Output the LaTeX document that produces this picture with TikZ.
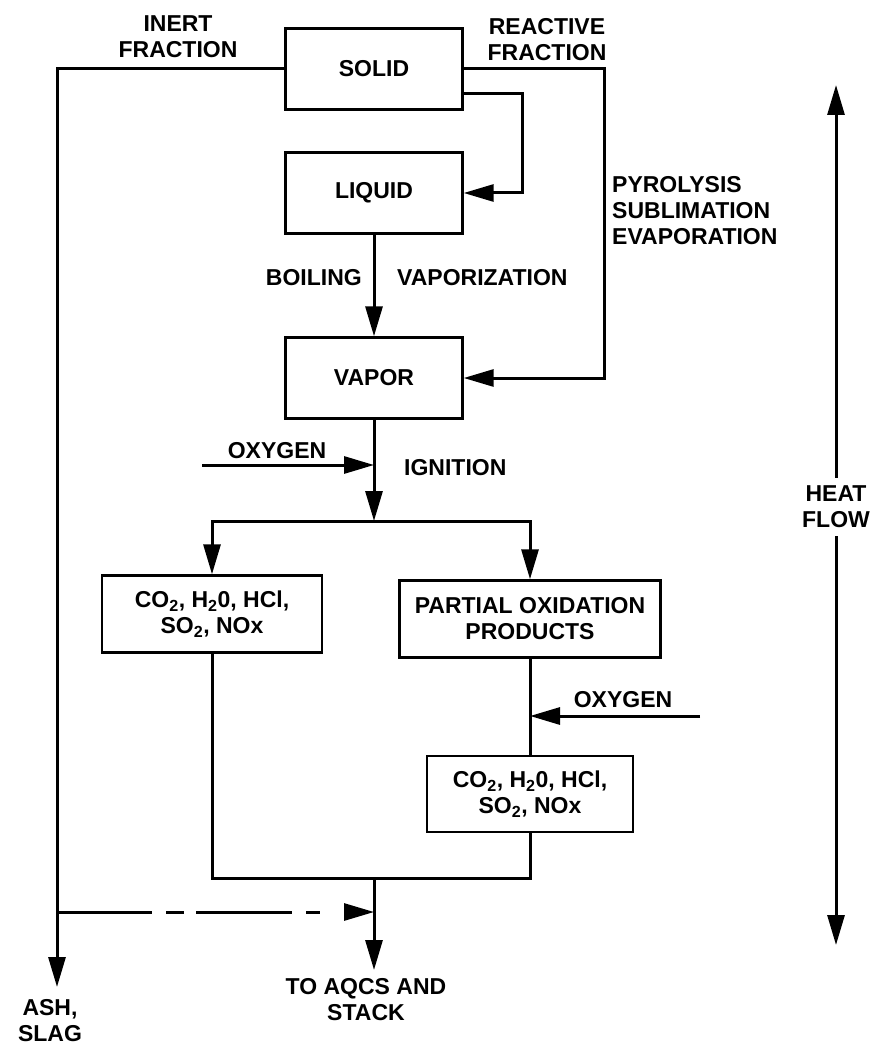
\documentclass[tikz,border=0pt]{standalone}
\usepackage{fontspec}
\setmainfont{Liberation Sans}
\usetikzlibrary{arrows.meta}
\newcommand\dlbl{\fontsize{23}{26}\selectfont\bfseries}
\begin{document}
\begin{tikzpicture}[x=1pt,y=-1pt,
  box/.style={draw, line width=2.4pt, minimum width=#1, minimum height=81pt, inner sep=0pt, align=center, font=\dlbl},
  lab/.style={font=\dlbl, align=center, inner sep=0pt},
  plainline/.style={line width=3pt},
  flow/.style={line width=3pt, -{Triangle[length=30pt,width=17pt]}}]
\useasboundingbox (0,0) rectangle (873,1048);
% boxes
\node[box=177pt] (solid) at (374,69) {SOLID};
\node[box=177pt] (liquid) at (374,193) {LIQUID};
\node[box=177pt] (vapor) at (374,378) {VAPOR};
\node[box=220pt, minimum height=77pt] (left) at (212,614) {CO\textsubscript{2}, H\textsubscript{2}0, HCl,\\SO\textsubscript{2}, NOx};
\node[box=261pt, minimum height=77pt] (partial) at (530,619) {PARTIAL OXIDATION\\PRODUCTS};
\node[box=206pt, minimum height=76pt] (low) at (530,794) {CO\textsubscript{2}, H\textsubscript{2}0, HCl,\\SO\textsubscript{2}, NOx};
% labels
\node[lab] (inert) at (178,37) {INERT\\FRACTION};
\node[lab] (reactive) at (547,40) {REACTIVE\\FRACTION};
\node[lab, align=left, anchor=west] (pyro) at (612,211) {PYROLYSIS\\SUBLIMATION\\EVAPORATION};
\node[lab, anchor=east] (boil) at (362,278) {BOILING};
\node[lab, anchor=west] (vapz) at (397,278) {VAPORIZATION};
\node[lab] (oxya) at (277,451) {OXYGEN};
\node[lab, anchor=west] (ign) at (404,468) {IGNITION};
\node[lab] (oxyb) at (623,700) {OXYGEN};
\node[lab] (ash) at (50,1021) {ASH,\\SLAG};
\node[lab] (aqcs) at (366,1000) {TO AQCS AND\\STACK};
\node[lab, inner sep=8pt] (heat) at (836,507) {HEAT\\FLOW};
% coordinates
\coordinate (ashend) at (57,987);
\coordinate (r1) at (604,69);
\coordinate (c1) at (522,94);
\coordinate (split) at (374,521);
\coordinate (oxy1) at (202,465);
\coordinate (oxy2) at (700,716);
\coordinate (join) at (374,878);
\coordinate (stack) at (374,970);
\coordinate (dash1) at (57,912);
\coordinate (h1) at (836,85);
\coordinate (h2) at (836,945);
% connectors
\draw[flow] (solid.west) -| (ashend);
\draw[flow] (solid.east) -- (r1) |- (vapor.east);
\draw[flow] (solid.east |- c1) -- (c1) |- (liquid.east);
\draw[flow] (liquid) -- (vapor);
\draw[flow] (vapor) -- (split);
\draw[flow] (oxy1) -- (oxy1 -| split);
\draw[plainline, line cap=rect] (left.north |- split) -- (partial.north |- split);
\draw[flow] (left.north |- split) -- (left.north);
\draw[flow] (partial.north |- split) -- (partial.north);
\draw[plainline] (partial) -- (low);
\draw[flow] (oxy2) -- (oxy2 -| partial);
\draw[plainline] (left.south) |- (join) -| (low.south);
\draw[flow] (join) -- (stack);
\draw[flow, dash pattern=on 95pt off 14pt on 18pt off 12pt on 96pt off 14pt on 14pt off 100pt] (dash1) -- (dash1 -| join);
\draw[flow] (heat.north) -- (h1);
\draw[flow] (heat.south) -- (h2);
\end{tikzpicture}
\end{document}
